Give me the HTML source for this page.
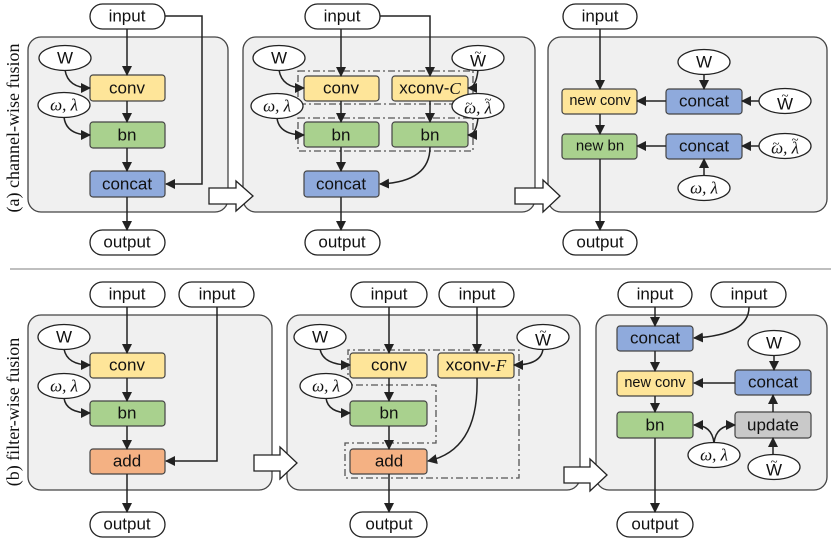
<!DOCTYPE html>
<html><head><meta charset="utf-8"><style>
html,body{margin:0;padding:0;background:#fff;}
svg{display:block;}
text{font-family:"Liberation Sans",sans-serif;font-size:17px;fill:#111;text-anchor:middle;dominant-baseline:central;}
.m{font-family:"Liberation Serif",serif;font-style:italic;font-size:17px;}
.t{font-family:"Liberation Serif",serif;font-size:13px;}
.p{fill:#f0f0f0;stroke:#444;stroke-width:1.3;}
.b{stroke:#444;stroke-width:1.2;}
.y{fill:#fee599;}.g{fill:#a9d18e;}.bl{fill:#8faadc;}.o{fill:#f4b183;}.gr{fill:#c9c9c9;}
.pill{fill:#fff;stroke:#222;stroke-width:1.3;}
.l{fill:none;stroke:#222;stroke-width:1.5;}
.d{fill:none;stroke:#555;stroke-width:1.3;stroke-dasharray:7,3,2,3;}
.ba{fill:#fff;stroke:#222;stroke-width:1.3;}
</style></head><body>
<svg width="831" height="539" viewBox="0 0 831 539" xmlns="http://www.w3.org/2000/svg">
<defs><marker id="a" markerWidth="10" markerHeight="10" refX="9" refY="5" orient="auto" markerUnits="userSpaceOnUse"><path d="M0,0 L10,5 L0,10 z" fill="#222"/></marker></defs>

<text x="13" y="128" transform="rotate(-90 13 128)" style="font-family:'Liberation Serif',serif;font-size:18px">(a) channel-wise fusion</text>
<text x="13" y="412" transform="rotate(-90 13 412)" style="font-family:'Liberation Serif',serif;font-size:18px">(b) filter-wise fusion</text>
<line x1="10" y1="269" x2="831" y2="269" stroke="#999" stroke-width="1.2"/>

<!-- ===== TOP PANEL 1 ===== -->
<rect class="p" x="28" y="37" width="200" height="175" rx="13"/>
<rect class="pill" x="90" y="4" width="75" height="25" rx="12.5"/><text x="127" y="16">input</text>
<rect class="b y" x="90" y="75" width="75" height="26" rx="3"/><text x="127" y="88">conv</text>
<rect class="b g" x="90" y="122" width="75" height="26" rx="3"/><text x="127" y="135">bn</text>
<rect class="b bl" x="90" y="171" width="75" height="26" rx="3"/><text x="127" y="184">concat</text>
<rect class="pill" x="90" y="230" width="75" height="25" rx="12.5"/><text x="127" y="242">output</text>
<ellipse class="pill" cx="65" cy="58" rx="26" ry="12.5"/><text x="65" y="58">W</text>
<ellipse class="pill" cx="64" cy="105" rx="26" ry="12.5"/><text class="m" x="64" y="105">ω, λ</text>
<path class="l" d="M127,29 V75" marker-end="url(#a)"/>
<path class="l" d="M127,101 V122" marker-end="url(#a)"/>
<path class="l" d="M127,148 V171" marker-end="url(#a)"/>
<path class="l" d="M127,197 V230" marker-end="url(#a)"/>
<path class="l" d="M165,16 H202 V184 H166" marker-end="url(#a)"/>
<path class="l" d="M65,70 Q68,88 90,88" marker-end="url(#a)"/>
<path class="l" d="M64,117 Q66,135 90,135" marker-end="url(#a)"/>

<!-- ===== TOP PANEL 2 ===== -->
<rect class="p" x="243" y="37" width="292" height="175" rx="13"/>
<path class="ba" d="M209,188 H236 V181 L253,196 L236,211 V204 H209 Z"/>
<rect class="pill" x="305" y="4" width="75" height="25" rx="12.5"/><text x="342" y="16">input</text>
<rect class="d" x="298" y="71" width="175" height="33"/>
<rect class="d" x="298" y="118" width="175" height="33"/>
<rect class="b y" x="304" y="76" width="75" height="25" rx="3"/><text x="341" y="88">conv</text>
<rect class="b y" x="392" y="76" width="76" height="25" rx="3"/><text x="430" y="88">xconv-<tspan class="m">C</tspan></text>
<rect class="b g" x="304" y="122" width="75" height="25" rx="3"/><text x="341" y="135">bn</text>
<rect class="b g" x="392" y="122" width="76" height="25" rx="3"/><text x="430" y="135">bn</text>
<rect class="b bl" x="304" y="171" width="75" height="26" rx="3"/><text x="341" y="184">concat</text>
<rect class="pill" x="305" y="230" width="75" height="25" rx="12.5"/><text x="342" y="242">output</text>
<ellipse class="pill" cx="279" cy="58" rx="26" ry="12.5"/><text x="279" y="58">W</text>
<ellipse class="pill" cx="478" cy="58" rx="26" ry="12.5"/><text x="478" y="61">W</text><text class="t" x="478" y="52">~</text>
<ellipse class="pill" cx="277" cy="106" rx="26" ry="12.5"/><text class="m" x="277" y="106">ω, λ</text>
<ellipse class="pill" cx="478" cy="106" rx="26" ry="12.5"/><text class="m" x="478" y="108">ω, λ</text><text class="t" x="469" y="103">~</text><text class="t" x="488" y="99">~</text>
<path class="l" d="M341,29 V76" marker-end="url(#a)"/>
<path class="l" d="M380,16 H430 V76" marker-end="url(#a)"/>
<path class="l" d="M341,101 V122" marker-end="url(#a)"/>
<path class="l" d="M430,101 V122" marker-end="url(#a)"/>
<path class="l" d="M341,147 V171" marker-end="url(#a)"/>
<path class="l" d="M430,147 Q430,182 380,184" marker-end="url(#a)"/>
<path class="l" d="M341,197 V230" marker-end="url(#a)"/>
<path class="l" d="M279,70 Q282,88 304,88" marker-end="url(#a)"/>
<path class="l" d="M277,118 Q279,135 304,135" marker-end="url(#a)"/>
<path class="l" d="M478,70 Q476,88 468,88" marker-end="url(#a)"/>
<path class="l" d="M478,118 Q476,135 468,135" marker-end="url(#a)"/>

<!-- ===== TOP PANEL 3 ===== -->
<rect class="p" x="548" y="37" width="279" height="175" rx="13"/>
<path class="ba" d="M515,188 H543 V180 L560,196 L543,212 V204 H515 Z"/>
<rect class="pill" x="563" y="4" width="74" height="25" rx="12.5"/><text x="600" y="16">input</text>
<rect class="b y" x="562" y="89" width="75" height="25" rx="3"/><text x="600" y="101" style="font-size:14.5px">new conv</text>
<rect class="b g" x="562" y="134" width="75" height="25" rx="3"/><text x="600" y="146" style="font-size:15px">new bn</text>
<rect class="b bl" x="666" y="89" width="76" height="25" rx="3"/><text x="704" y="101">concat</text>
<rect class="b bl" x="666" y="134" width="76" height="25" rx="3"/><text x="704" y="146">concat</text>
<rect class="pill" x="563" y="230" width="74" height="25" rx="12.5"/><text x="600" y="242">output</text>
<ellipse class="pill" cx="704" cy="62" rx="26" ry="12.5"/><text x="704" y="62">W</text>
<ellipse class="pill" cx="785" cy="101" rx="26" ry="12.5"/><text x="785" y="104">W</text><text class="t" x="785" y="95">~</text>
<ellipse class="pill" cx="785" cy="146" rx="26" ry="12.5"/><text class="m" x="785" y="148">ω, λ</text><text class="t" x="776" y="143">~</text><text class="t" x="795" y="139">~</text>
<ellipse class="pill" cx="704" cy="188" rx="26" ry="12.5"/><text class="m" x="704" y="188">ω, λ</text>
<path class="l" d="M600,29 V89" marker-end="url(#a)"/>
<path class="l" d="M600,114 V134" marker-end="url(#a)"/>
<path class="l" d="M600,159 V230" marker-end="url(#a)"/>
<path class="l" d="M666,101 H637" marker-end="url(#a)"/>
<path class="l" d="M666,146 H637" marker-end="url(#a)"/>
<path class="l" d="M704,74 V89" marker-end="url(#a)"/>
<path class="l" d="M704,176 V159" marker-end="url(#a)"/>
<path class="l" d="M759,101 H742" marker-end="url(#a)"/>
<path class="l" d="M759,146 H742" marker-end="url(#a)"/>

<!-- ===== BOTTOM PANEL 1 ===== -->
<rect class="p" x="28" y="315" width="244" height="175" rx="13"/>
<rect class="pill" x="90" y="282" width="75" height="25" rx="12.5"/><text x="127" y="294">input</text>
<rect class="pill" x="179" y="282" width="75" height="25" rx="12.5"/><text x="217" y="294">input</text>
<rect class="b y" x="90" y="353" width="75" height="25" rx="3"/><text x="127" y="365">conv</text>
<rect class="b g" x="90" y="401" width="75" height="25" rx="3"/><text x="127" y="413">bn</text>
<rect class="b o" x="90" y="449" width="75" height="25" rx="3"/><text x="127" y="461">add</text>
<rect class="pill" x="90" y="512" width="75" height="25" rx="12.5"/><text x="127" y="524">output</text>
<ellipse class="pill" cx="64" cy="337" rx="26" ry="12.5"/><text x="64" y="337">W</text>
<ellipse class="pill" cx="64" cy="386" rx="26" ry="12.5"/><text class="m" x="64" y="386">ω, λ</text>
<path class="l" d="M127,307 V353" marker-end="url(#a)"/>
<path class="l" d="M127,378 V401" marker-end="url(#a)"/>
<path class="l" d="M127,426 V449" marker-end="url(#a)"/>
<path class="l" d="M127,474 V512" marker-end="url(#a)"/>
<path class="l" d="M217,307 V461 H166" marker-end="url(#a)"/>
<path class="l" d="M64,349 Q67,365 90,365" marker-end="url(#a)"/>
<path class="l" d="M64,398 Q66,413 90,413" marker-end="url(#a)"/>

<!-- ===== BOTTOM PANEL 2 ===== -->
<rect class="p" x="287" y="315" width="293" height="175" rx="13"/>
<path class="ba" d="M254,455 H280 V447 L297,463 L280,479 V471 H254 Z"/>
<rect class="pill" x="351" y="282" width="76" height="25" rx="12.5"/><text x="389" y="294">input</text>
<rect class="pill" x="439" y="282" width="75" height="25" rx="12.5"/><text x="477" y="294">input</text>
<path class="d" d="M348,385 V350 H519 V478 H345 V443 H436 V385 Z"/>
<rect class="b y" x="350" y="353" width="77" height="25" rx="3"/><text x="389" y="365">conv</text>
<rect class="b y" x="438" y="353" width="76" height="25" rx="3"/><text x="476" y="365">xconv-<tspan class="m">F</tspan></text>
<rect class="b g" x="350" y="401" width="77" height="25" rx="3"/><text x="389" y="413">bn</text>
<rect class="b o" x="350" y="449" width="77" height="25" rx="3"/><text x="389" y="461">add</text>
<rect class="pill" x="350" y="512" width="77" height="25" rx="12.5"/><text x="389" y="524">output</text>
<ellipse class="pill" cx="320" cy="337" rx="26" ry="12.5"/><text x="320" y="337">W</text>
<ellipse class="pill" cx="543" cy="337" rx="26" ry="12.5"/><text x="543" y="340">W</text><text class="t" x="543" y="331">~</text>
<ellipse class="pill" cx="326" cy="386" rx="26" ry="12.5"/><text class="m" x="326" y="386">ω, λ</text>
<path class="l" d="M389,307 V353" marker-end="url(#a)"/>
<path class="l" d="M477,307 V353" marker-end="url(#a)"/>
<path class="l" d="M389,378 V401" marker-end="url(#a)"/>
<path class="l" d="M389,426 V449" marker-end="url(#a)"/>
<path class="l" d="M389,474 V512" marker-end="url(#a)"/>
<path class="l" d="M477,378 Q479,450 428,461" marker-end="url(#a)"/>
<path class="l" d="M320,349 Q323,365 350,365" marker-end="url(#a)"/>
<path class="l" d="M326,398 Q328,413 350,413" marker-end="url(#a)"/>
<path class="l" d="M543,349 Q541,365 514,365" marker-end="url(#a)"/>

<!-- ===== BOTTOM PANEL 3 ===== -->
<rect class="p" x="596" y="315" width="231" height="175" rx="13"/>
<path class="ba" d="M564,467 H590 V459 L607,475 L590,491 V483 H564 Z"/>
<rect class="pill" x="618" y="282" width="74" height="25" rx="12.5"/><text x="655" y="294">input</text>
<rect class="pill" x="711" y="282" width="75" height="25" rx="12.5"/><text x="749" y="294">input</text>
<rect class="b bl" x="617" y="326" width="76" height="25" rx="3"/><text x="655" y="338">concat</text>
<rect class="b y" x="617" y="371" width="76" height="25" rx="3"/><text x="655" y="383" style="font-size:14.5px">new conv</text>
<rect class="b g" x="617" y="412" width="76" height="26" rx="3"/><text x="655" y="425">bn</text>
<rect class="b bl" x="735" y="370" width="76" height="25" rx="3"/><text x="773" y="382">concat</text>
<rect class="b gr" x="735" y="412" width="76" height="26" rx="3"/><text x="773" y="425">update</text>
<rect class="pill" x="617" y="512" width="76" height="25" rx="12.5"/><text x="655" y="524">output</text>
<ellipse class="pill" cx="774" cy="343" rx="26" ry="12.5"/><text x="774" y="343">W</text>
<ellipse class="pill" cx="774" cy="467" rx="26" ry="12.5"/><text x="774" y="470">W</text><text class="t" x="774" y="461">~</text>
<ellipse class="pill" cx="714" cy="455" rx="26" ry="12.5"/><text class="m" x="714" y="455">ω, λ</text>
<path class="l" d="M655,307 V326" marker-end="url(#a)"/>
<path class="l" d="M749,307 Q749,335 694,338" marker-end="url(#a)"/>
<path class="l" d="M655,351 V371" marker-end="url(#a)"/>
<path class="l" d="M655,396 V412" marker-end="url(#a)"/>
<path class="l" d="M655,438 V512" marker-end="url(#a)"/>
<path class="l" d="M735,383 H694" marker-end="url(#a)"/>
<path class="l" d="M774,355 V370" marker-end="url(#a)"/>
<path class="l" d="M773,412 V395" marker-end="url(#a)"/>
<path class="l" d="M773,455 V438" marker-end="url(#a)"/>
<path class="l" d="M714,443 Q712,425 694,425" marker-end="url(#a)"/>
<path class="l" d="M714,443 Q716,425 735,425" marker-end="url(#a)"/>
</svg>
</body></html>
